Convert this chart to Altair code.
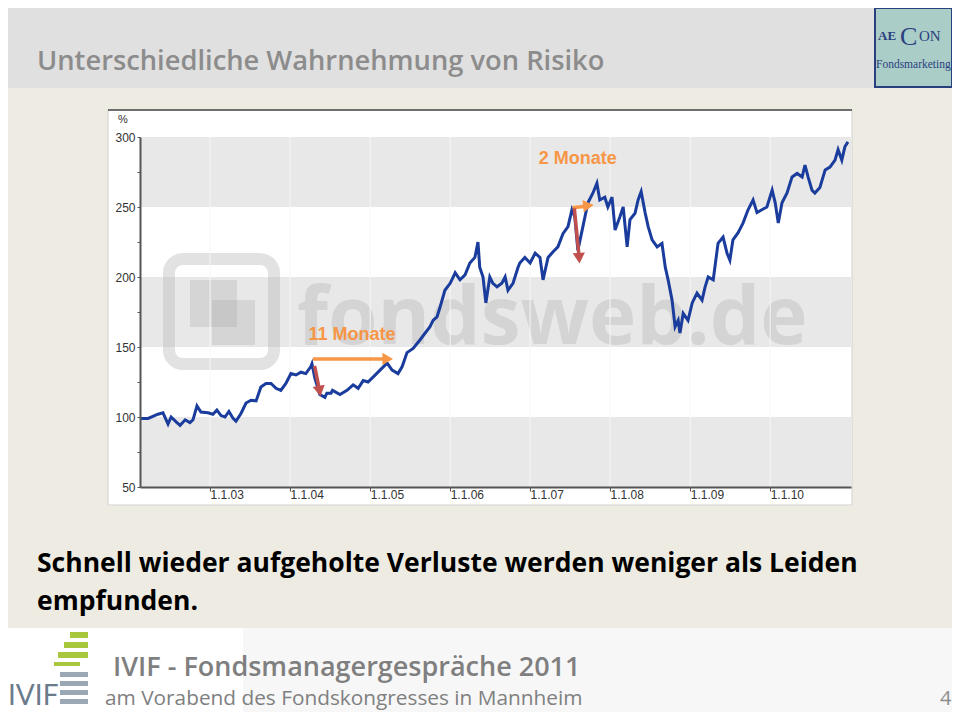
import altair as alt
import pandas as pd

# ---------------- data ----------------
dates = [
    "2002-02-15", "2002-03-24", "2002-05-08", "2002-05-31", "2002-06-23", "2002-07-07",
    "2002-07-30", "2002-08-17", "2002-09-09", "2002-10-01", "2002-10-15", "2002-11-02",
    "2002-11-20", "2002-12-22", "2003-01-14", "2003-02-01", "2003-02-20", "2003-03-10",
    "2003-03-28", "2003-04-16", "2003-04-29", "2003-05-22", "2003-06-14", "2003-07-07",
    "2003-07-30", "2003-08-21", "2003-09-13", "2003-10-06", "2003-10-29", "2003-11-20",
    "2003-12-13", "2004-01-05", "2004-01-28", "2004-02-20", "2004-03-13", "2004-04-05",
    "2004-04-10", "2004-04-23", "2004-05-16", "2004-06-08", "2004-06-17", "2004-07-06",
    "2004-07-13", "2004-08-16", "2004-09-17", "2004-10-15", "2004-11-07", "2004-11-30",
    "2004-12-22", "2005-01-14", "2005-02-15", "2005-03-19", "2005-04-11", "2005-05-08",
    "2005-05-27", "2005-06-18", "2005-07-16", "2005-08-16", "2005-09-09", "2005-10-01",
    "2005-10-15", "2005-11-02", "2005-11-15", "2005-12-08", "2006-01-01", "2006-01-24",
    "2006-02-15", "2006-03-10", "2006-04-01", "2006-04-24", "2006-05-08", "2006-05-16",
    "2006-05-31", "2006-06-13", "2006-07-01", "2006-07-15", "2006-08-03", "2006-08-25",
    "2006-09-09", "2006-09-22", "2006-10-15", "2006-11-07", "2006-11-15", "2006-12-08",
    "2007-01-01", "2007-01-24", "2007-02-15", "2007-03-01", "2007-03-24", "2007-04-16",
    "2007-05-08", "2007-05-31", "2007-06-23", "2007-07-11", "2007-07-24", "2007-08-07",
    "2007-08-30", "2007-09-22", "2007-10-15", "2007-11-02", "2007-11-15", "2007-12-08",
    "2007-12-22", "2008-01-10", "2008-01-24", "2008-02-15", "2008-03-01", "2008-03-19",
    "2008-04-01", "2008-04-24", "2008-05-08", "2008-05-22", "2008-06-09", "2008-06-23",
    "2008-07-11", "2008-08-03", "2008-08-25", "2008-09-09", "2008-09-22", "2008-10-10",
    "2008-10-24", "2008-11-07", "2008-11-15", "2008-11-30", "2008-12-22", "2009-01-10",
    "2009-02-01", "2009-02-24", "2009-03-10", "2009-03-24", "2009-04-16", "2009-05-08",
    "2009-05-31", "2009-06-18", "2009-07-01", "2009-07-15", "2009-08-07", "2009-08-30",
    "2009-09-22", "2009-10-15", "2009-11-02", "2009-11-24", "2009-12-17", "2010-01-10",
    "2010-01-24", "2010-02-07", "2010-02-24", "2010-03-19", "2010-04-11", "2010-05-04",
    "2010-05-27", "2010-06-09", "2010-06-23", "2010-07-11", "2010-07-24", "2010-08-16",
    "2010-09-09", "2010-10-01", "2010-10-24", "2010-11-07", "2010-11-24", "2010-12-08",
    "2010-12-22",
]
values = [
    99, 99, 102, 103, 95, 100,
    96.5, 94, 98, 96, 98, 108,
    103.5, 103, 102, 105, 101, 100,
    104, 99, 97, 102.5, 110, 112,
    111.5, 121.5, 124, 124, 120.5, 119,
    124, 131, 130, 132, 131, 136,
    138, 128, 116, 114, 117, 117,
    119, 116, 119, 123, 120.5, 126,
    125, 128.5, 133.5, 138.5, 133.5, 131,
    136, 146, 149, 155, 160, 164.5,
    169, 171.5, 178, 190.5, 195.5, 203,
    198, 201.5, 210, 214, 225, 207,
    200, 181.5, 200, 195.5, 193, 195.5,
    200, 190.5, 195.5, 207, 210, 214,
    210, 217, 214, 198, 214, 218,
    221.5, 231, 236, 248, 243, 219,
    236, 253, 260, 267, 255, 257,
    250, 257, 233.5, 243, 250, 221.5,
    241, 245.5, 255, 261, 246, 236,
    226.5, 221.5, 224, 207, 198, 183.5,
    164.5, 169, 160, 174, 169, 181.5,
    188.5, 183.5, 193, 200, 198, 224,
    228.5, 217, 212, 226.5, 231.5, 238.5,
    248, 255, 246, 248, 250, 262,
    253, 238.5, 253, 260, 271.5, 274,
    271.5, 280, 271.5, 262, 260, 264,
    276.5, 278.5, 283.5, 291, 283.5, 293,
    296.5,
]

years = [2003, 2004, 2005, 2006, 2007, 2008, 2009, 2010]
y_ticks = [50, 75, 100, 125, 150, 175, 200, 225, 250, 275, 300]
band_lo = [250, 150, 50]
band_hi = [300, 200, 100]

ann_text = ["11 Monate", "2 Monate"]
ann_date = ["2004-10-10", "2007-08-07"]
ann_val = [158.6, 284.3]

arrow_color = ["#F79646", "#C0504D", "#F79646", "#C0504D"]
arrow_start_date = ["2004-04-14", "2004-04-22", "2007-07-14", "2007-07-22"]
arrow_start_val = [141.5, 136.5, 249.5, 249.0]
arrow_end_date = ["2005-03-14", "2004-05-12", "2007-09-12", "2007-08-11"]
arrow_end_val = [141.5, 121.0, 250.5, 217.0]
head_date = ["2005-03-22", "2004-05-15", "2007-09-24", "2007-08-13"]
head_val = [141.5, 118.5, 251.0, 213.5]
head_shape = ["triangle-right", "triangle-down", "triangle-right", "triangle-down"]
head_angle = [0, 350, 354, 356]

# ---------------- scales & axes ----------------
X_SC = alt.Scale(type="utc",
                 domain=[alt.DateTime(year=2002, month=2, date=15, utc=True),
                         alt.DateTime(year=2011, month=1, date=5, utc=True)],
                 range=[132, 843])
Y_SC = alt.Scale(domain=[50, 300], range=[479, 129], zero=False, nice=False)

X_AX = alt.Axis(values=[alt.DateTime(year=y, month=1, date=1, utc=True) for y in years],
                labelExpr="'1.1.' + utcFormat(datum.value, '%y')",
                offset=-225, tickSize=4, labelAlign="left", labelBaseline="middle",
                labelPadding=3, labelFont="Liberation Sans", labelFontSize=12,
                labelColor="#333333", domainColor="#555555", domainWidth=2,
                tickColor="#555555", grid=False, title=None, labelFlush=False,
                labelOverlap=False, zindex=1)
Y_AX = alt.Axis(values=y_ticks,
                labelExpr="datum.value % 50 == 0 ? datum.label : ''",
                offset=-132, tickSize=3, labelPadding=2, labelFont="Liberation Sans",
                labelFontSize=12, labelColor="#333333", domainColor="#555555",
                domainWidth=2, tickColor="#555555", grid=False, title=None,
                labelOverlap=False, labelFlush=False, zindex=1)

one = pd.DataFrame({"k": [0]})


def box(x, y, x2, y2, fill, stroke=None, sw=0, radius=0, opacity=1.0, fill_opacity=None,
        stroke_opacity=None):
    kw = dict(fill=fill, opacity=opacity)
    if stroke is not None:
        kw.update(stroke=stroke, strokeWidth=sw)
    if radius:
        kw["cornerRadius"] = radius
    if fill_opacity is not None:
        kw["fillOpacity"] = fill_opacity
    if stroke_opacity is not None:
        kw["strokeOpacity"] = stroke_opacity
    return alt.Chart(one).mark_rect(**kw).encode(
        x=alt.value(x), x2=alt.value(x2), y=alt.value(y), y2=alt.value(y2))


def label(txt, x, y, size, color, weight="normal", font="Open Sans", align="left", opacity=1.0):
    return alt.Chart(one).mark_text(
        text=txt, align=align, baseline="alphabetic", font=font, fontSize=size,
        fontWeight=weight, color=color, opacity=opacity
    ).encode(x=alt.value(x), y=alt.value(y))


layers = []
# slide background pieces
layers.append(box(0, 0, 944, 80, "#E0E0E0"))
layers.append(label("Unterschiedliche Wahrnehmung von Risiko", 29, 62, 27.3, "#8C8C8C", 600))
# AECON logo
layers.append(box(867, 0, 944, 79, "#AACDC8", stroke="#2A3F7E", sw=2))
layers.append(label("AE", 870, 32, 13, "#2A3F7E", "bold", "Liberation Serif"))
layers.append(label("C", 892, 37, 26, "#2A3F7E", "normal", "Liberation Serif"))
layers.append(label("ON", 911, 33, 15, "#2A3F7E", "normal", "Liberation Serif"))
layers.append(label("Fondsmarketing", 868, 60, 11.5, "#2A3F7E", "normal", "Liberation Serif"))

# chart panel
layers.append(box(100, 102, 844, 497, "#FFFFFF", stroke="#D0D0D0", sw=1))
layers.append(box(100, 101, 844, 103, "#6E6E6E"))
layers.append(label("%", 110, 115, 11, "#333333", "normal", "Liberation Sans"))

# bands
bands = pd.DataFrame({"lo": band_lo, "hi": band_hi,
                      "xs": ["2002-02-15"] * 3, "xe": ["2011-01-05"] * 3})
layers.append(alt.Chart(bands).mark_rect(color="#E8E8E8").encode(
    x=alt.X("xs:T", scale=X_SC, axis=X_AX), x2="xe:T",
    y=alt.Y("lo:Q", scale=Y_SC, axis=Y_AX), y2="hi:Q"))

# watermark
layers.append(box(161, 251, 266, 356, "#FFFFFF", stroke="#B4B4B4", sw=12, radius=14,
                  fill_opacity=0, stroke_opacity=0.38))
layers.append(box(182, 272, 229, 319, "#A8A8A8", opacity=0.3))
layers.append(box(204, 292, 247, 337, "#A8A8A8", opacity=0.3))
layers.append(label("fondsweb.de", 289, 336, 80, "#B4B4B4", "bold", "Open Sans", opacity=0.38))

# vertical grid lines
grid = pd.DataFrame({"d": [f"{y}-01-01" for y in years]})
layers.append(alt.Chart(grid).mark_rule(color="#F7F7F7", strokeWidth=1).encode(
    x=alt.X("d:T", scale=X_SC, axis=X_AX),
    y=alt.Y(datum=50, scale=Y_SC, axis=Y_AX), y2=alt.Y2(datum=300)))

# main line
df = pd.DataFrame({"date": dates, "value": values})
layers.append(alt.Chart(df).mark_line(color="#1A3C9C", strokeWidth=3).encode(
    x=alt.X("date:T", scale=X_SC, axis=X_AX),
    y=alt.Y("value:Q", scale=Y_SC, axis=Y_AX)))

# annotation arrows
arr = pd.DataFrame({"xs": arrow_start_date, "ys": arrow_start_val,
                    "xe": arrow_end_date, "ye": arrow_end_val, "col": arrow_color})
layers.append(alt.Chart(arr).mark_rule(strokeWidth=3.5).encode(
    x=alt.X("xs:T", scale=X_SC, axis=X_AX), x2="xe:T",
    y=alt.Y("ys:Q", scale=Y_SC, axis=Y_AX), y2="ye:Q",
    color=alt.Color("col:N", scale=None)))
heads = pd.DataFrame({"d": head_date, "v": head_val, "shape": head_shape,
                      "ang": head_angle, "col": arrow_color})
layers.append(alt.Chart(heads).mark_point(filled=True, opacity=1, size=150).encode(
    x=alt.X("d:T", scale=X_SC, axis=X_AX),
    y=alt.Y("v:Q", scale=Y_SC, axis=Y_AX),
    shape=alt.Shape("shape:N", scale=None),
    angle=alt.Angle("ang:Q", scale=None),
    color=alt.Color("col:N", scale=None)))
ann = pd.DataFrame({"d": ann_date, "v": ann_val, "t": ann_text})
layers.append(alt.Chart(ann).mark_text(font="Liberation Sans", fontSize=18, fontWeight="bold",
                                       color="#F79646", baseline="middle").encode(
    x=alt.X("d:T", scale=X_SC, axis=X_AX),
    y=alt.Y("v:Q", scale=Y_SC, axis=Y_AX),
    text="t:N"))

# body text
layers.append(label("Schnell wieder aufgeholte Verluste werden weniger als Leiden",
                    29, 564, 26.5, "#000000", "bold"))
layers.append(label("empfunden.", 29, 602, 26.5, "#000000", "bold"))

# footer
layers.append(box(0, 620, 944, 704, "#F7F7F7"))
layers.append(box(0, 620, 235, 704, "#FFFFFF"))
for (x1, y1, x2, y2) in [(62, 624, 80, 630), (56, 634, 80, 640), (50, 644, 80, 650), (46, 654, 72, 658)]:
    layers.append(box(x1, y1, x2, y2, "#A9C73D"))
for (x1, y1, x2, y2) in [(52, 664, 80, 669), (52, 673, 80, 678), (52, 682, 80, 687),
                         (52, 691, 80, 696)]:
    layers.append(box(x1, y1, x2, y2, "#9AA8B6"))
layers.append(label("IVIF", 0, 697, 28, "#6B7B8C", "normal", "Lato"))
layers.append(label("IVIF - Fondsmanagergespräche 2011", 105, 668, 27, "#7F7F7F", 600))
layers.append(label("am Vorabend des Fondskongresses in Mannheim", 97, 697, 20.8, "#808080"))
layers.append(label("4", 932, 697, 20, "#8C8C8C"))

chart = alt.layer(*layers).properties(
    width=944, height=704,
    autosize=alt.AutoSizeParams(type="none"),
    padding=0,
    background="#EEECE2",
).configure_view(stroke=None)

chart.save("out.html", embed_options={"renderer": "svg", "actions": False})
